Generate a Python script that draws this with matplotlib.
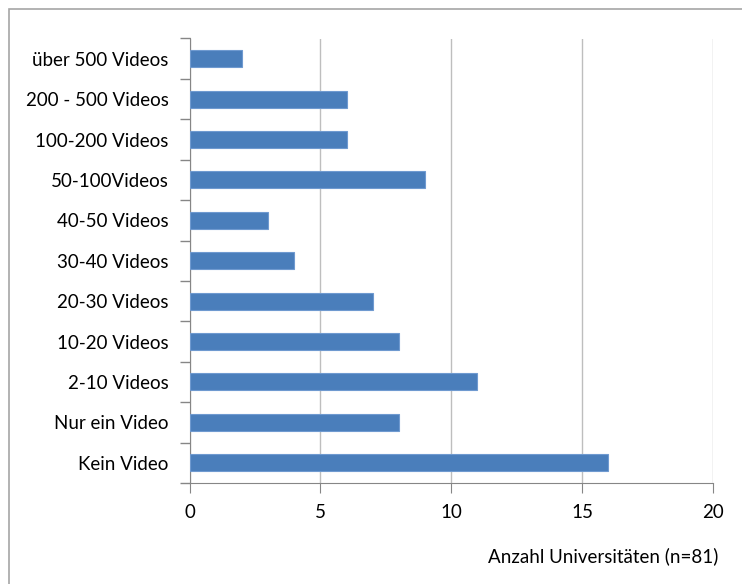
import matplotlib
matplotlib.use("Agg")
import matplotlib.pyplot as plt
from matplotlib.patches import Rectangle

categories = ["Kein Video", "Nur ein Video", "2-10 Videos", "10-20 Videos", "20-30 Videos",
              "30-40 Videos", "40-50 Videos", "50-100Videos", "100-200 Videos",
              "200 - 500 Videos", "über 500 Videos"]
values = [16, 8, 11, 8, 7, 4, 3, 9, 6, 6, 2]
x_ticks = [0, 5, 10, 15, 20]
x_label = "Anzahl Universitäten (n=81)"

plt.rcParams['font.family'] = ['Lato', 'DejaVu Sans']

W, H = 742, 584
fig = plt.figure(figsize=(W / 100, H / 100), dpi=100)

# chart frame
fig.patches.append(Rectangle((8.5 / W, -0.1), 1.2, 1 - 9.5 / H + 0.1,
                             transform=fig.transFigure, fill=False,
                             edgecolor="#A6A6A6", linewidth=1.2))

ax = fig.add_axes([189.5 / W, 1 - 483 / H, (713 - 189.5) / W, (483 - 38.5) / H])
ypos = list(range(len(categories)))
ax.barh(ypos, values, height=0.42, color="#4A7EBB", edgecolor="#6F9AD0", linewidth=0.8, zorder=3)

ax.set_xlim(0, 20)
ax.set_ylim(-0.5, len(categories) - 0.5)
ax.set_xticks(x_ticks)
ax.set_xticklabels([str(t) for t in x_ticks], fontsize=13.5)
ax.set_yticks(ypos)
ax.set_yticklabels(categories, fontsize=13.5)
ax.tick_params(axis="y", length=0, pad=15)
ax.tick_params(axis="x", length=7, color="#868686", pad=8)
ax.set_yticks([i - 0.5 for i in range(len(categories) + 1)], minor=True)
ax.tick_params(axis="y", which="minor", length=7, color="#868686", width=1)

ax.xaxis.grid(True, color="#BEBEBE", linewidth=1, zorder=0)
ax.set_axisbelow(True)
for side in ["top", "right"]:
    ax.spines[side].set_visible(False)
ax.spines["left"].set_color("#868686")
ax.spines["bottom"].set_color("#868686")

fig.text(718 / W, 1 - 556 / H, x_label, ha="right", va="center", fontsize=13.5)

fig.savefig("out.png", dpi=100, facecolor="white")
